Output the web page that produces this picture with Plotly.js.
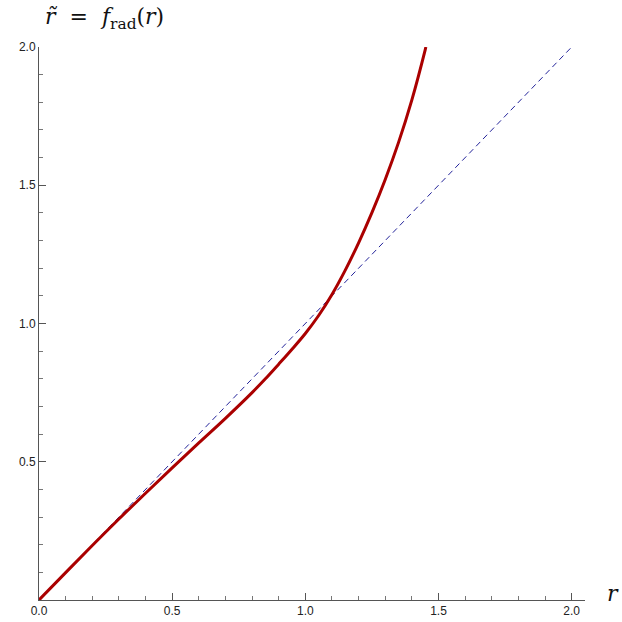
<!DOCTYPE html>
<html>
<head>
<meta charset="utf-8">
<script src="https://cdn.plot.ly/plotly-3.0.1.min.js"></script>
<style>html,body{margin:0;padding:0;background:#fff;}#chart{width:622px;height:622px;}</style>
</head>
<body>
<div id="chart"></div>
<script>
const rVals = [0, 0.1, 0.2, 0.3, 0.4, 0.5, 0.6, 0.7, 0.8, 0.85, 0.9, 0.95, 1.0, 1.05, 1.1, 1.15, 1.2, 1.25, 1.3, 1.35, 1.4, 1.45, 1.4525];
const fVals = [0, 0.099, 0.197, 0.293, 0.386, 0.478, 0.568, 0.657, 0.750, 0.800, 0.853, 0.907, 0.964, 1.029, 1.105, 1.193, 1.292, 1.401, 1.521, 1.655, 1.809, 1.990, 2.0];
const identX = [0, 2.0];
const identY = [0, 2.0];
const xTickVals = [0, 0.5, 1.0, 1.5, 2.0];
const xTickText = ["0.0", "0.5", "1.0", "1.5", "2.0"];
const yTickVals = [0.5, 1.0, 1.5, 2.0];
const yTickText = ["0.5", "1.0", "1.5", "2.0"];

const traces = [
  {x: identX, y: identY, mode: 'lines', line: {color: '#23239a', width: 1, dash: '6px,4px'}, hoverinfo: 'skip'},
  {x: rVals, y: fVals, mode: 'lines', line: {color: '#aa0000', width: 3, shape: 'spline', smoothing: 1}, hoverinfo: 'skip'}
];
const axisCommon = {
  showgrid: false, zeroline: false, showline: true, linecolor: '#555', linewidth: 1,
  ticks: 'inside', ticklen: 7, tickcolor: '#555', tickwidth: 1,
  tickfont: {family: 'Liberation Sans, Arial, sans-serif', size: 12, color: '#222'},
  minor: {ticks: 'inside', ticklen: 4, dtick: 0.1, tick0: 0, tickcolor: '#777', tickwidth: 1, showgrid: false}
};
const layout = {
  width: 622, height: 622,
  margin: {l: 38.5, r: 37, t: 47, b: 22, pad: 0},
  paper_bgcolor: '#fff', plot_bgcolor: '#fff',
  showlegend: false,
  xaxis: Object.assign({}, axisCommon, {range: [0, 2.05], tickmode: 'array', tickvals: xTickVals, ticktext: xTickText, fixedrange: true}),
  yaxis: Object.assign({}, axisCommon, {range: [0, 2.0], tickmode: 'array', tickvals: yTickVals, ticktext: yTickText, fixedrange: true}),
  annotations: [
    {xref: 'paper', yref: 'paper', x: 0.0, y: 1.0, xshift: 4, yshift: 12, xanchor: 'left', yanchor: 'bottom', showarrow: false,
     text: '<i>r̃</i>&nbsp;&nbsp;=&nbsp;&nbsp;<i>f</i><sub>rad</sub>(<i>r</i>)', font: {family: 'DejaVu Serif, Liberation Serif, serif', size: 22, color: '#111'}},
    {xref: 'paper', yref: 'paper', x: 1.0, y: 0, xshift: 20, yshift: -8, xanchor: 'left', yanchor: 'bottom', showarrow: false,
     text: '<i>r</i>', font: {family: 'DejaVu Serif, Liberation Serif, serif', size: 22, color: '#111'}}
  ]
};
Plotly.newPlot('chart', traces, layout, {staticPlot: true, displayModeBar: false});
</script>
</body>
</html>
